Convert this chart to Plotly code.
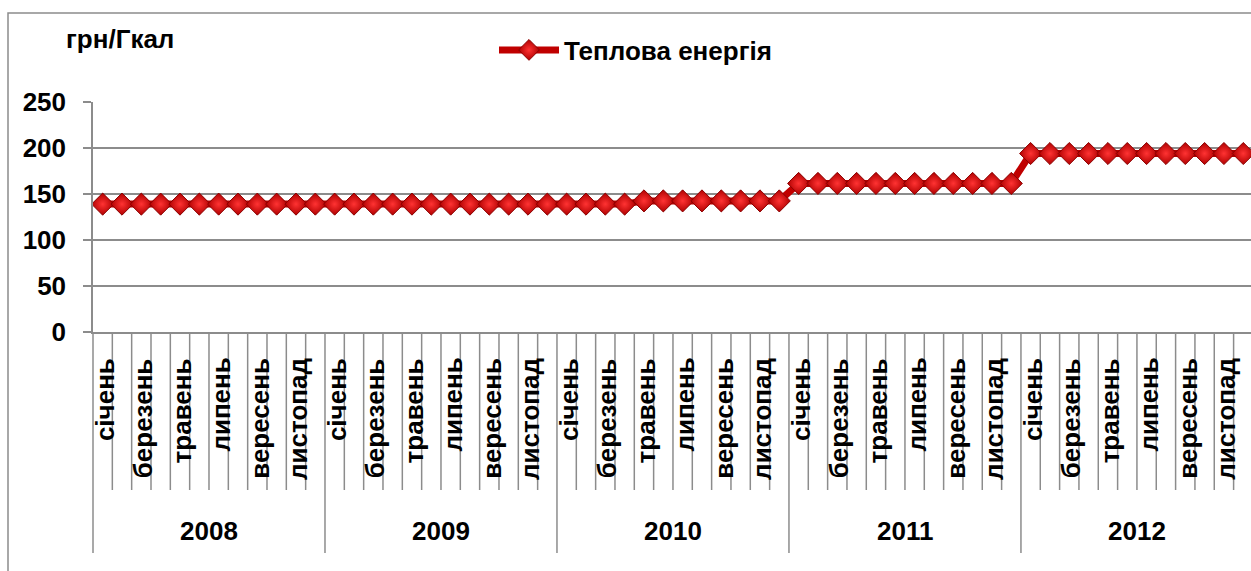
import plotly.graph_objects as go

# ---- data ----
years = ['2008', '2009', '2010', '2011', '2012']
months = ['січень', 'лютий', 'березень', 'квітень', 'травень', 'червень',
          'липень', 'серпень', 'вересень', 'жовтень', 'листопад', 'грудень']
shown_months = ['січень', 'березень', 'травень', 'липень', 'вересень', 'листопад']

values_2008 = [139, 139, 139, 139, 139, 139, 139, 139, 139, 139, 139, 139]
values_2009 = [139, 139, 139, 139, 139, 139, 139, 139, 139, 139, 139, 139]
values_2010 = [139, 139, 139, 139, 142.5, 142.5, 142.5, 142.5, 142.5, 142.5, 142.5, 142.5]
values_2011 = [161.5, 161.5, 161.5, 161.5, 161.5, 161.5, 161.5, 161.5, 161.5, 161.5, 161.5, 161.5]
values_2012 = [194, 194, 194, 194, 194, 194, 194, 194, 194, 194, 194, 194]

series_name = 'Теплова енергія'
unit_label = 'грн/Гкал'
y_ticks = [0, 50, 100, 150, 200, 250]

# ---- derived ----
values = values_2008 + values_2009 + values_2010 + values_2011 + values_2012
x_idx = list(range(len(values)))
month_labels = [months[i % 12] for i in x_idx]

W, H = 1251, 571
L, R, T, B = 93, 0, 102, 239
plot_w = W - L - R
plot_h = H - T - B

def py(pix):
    """pixel y -> paper y"""
    return (H - B - pix) / plot_h

def px(pix):
    return (pix - L) / plot_w

GRAY = '#8c8c8c'
FONT = dict(family='Liberation Sans, Arial, sans-serif', size=26, color='black', weight='bold')

fig = go.Figure()
fig.add_trace(go.Scatter(
    x=x_idx, y=values, mode='lines+markers', name=series_name,
    line=dict(color='#C00000', width=7),
    marker=dict(symbol='diamond', size=17, color='#B00000',
                line=dict(color='#8B0000', width=1),
                gradient=dict(type='radial', color='#FF3333')),
    cliponaxis=False, hoverinfo='y'))

shapes = []
annotations = []

n = len(values)
# month boundary lines and year dividers
for i in range(n - 1):
    b = i + 0.5
    if (i + 1) % 12 == 0:
        shapes.append(dict(type='line', xref='x', yref='paper', x0=b, x1=b,
                           y0=0, y1=py(553), line=dict(color=GRAY, width=1.5)))
    else:
        shapes.append(dict(type='line', xref='x', yref='paper', x0=b, x1=b,
                           y0=0, y1=py(490), line=dict(color=GRAY, width=1.5)))
# left divider
shapes.append(dict(type='line', xref='paper', yref='paper', x0=0, x1=0,
                   y0=0, y1=py(553), line=dict(color=GRAY, width=1.5)))
# outer chart frame
shapes.append(dict(type='rect', xref='paper', yref='paper', x0=px(8), x1=px(1270),
                   y0=py(590), y1=py(13), line=dict(color=GRAY, width=1.5),
                   fillcolor='rgba(0,0,0,0)'))

for i in x_idx:
    if month_labels[i] in shown_months:
        annotations.append(dict(x=i + 0.1, xref='x', y=py(356), yref='paper',
                                text=month_labels[i], textangle=-90,
                                xanchor='center', yanchor='top', showarrow=False,
                                font=FONT))
for k, yr in enumerate(years):
    annotations.append(dict(x=12 * k + 5.5, xref='x', y=py(531), yref='paper',
                            text=yr, xanchor='center', yanchor='middle',
                            showarrow=False, font=FONT))
annotations.append(dict(x=px(64), xref='paper', y=py(39), yref='paper',
                        text=unit_label, xanchor='left', yanchor='middle',
                        showarrow=False, font=FONT))

fig.update_layout(
    width=W, height=H,
    margin=dict(l=L, r=R, t=T, b=B),
    paper_bgcolor='white', plot_bgcolor='white',
    showlegend=True,
    legend=dict(orientation='h', x=px(494), xanchor='left', y=py(50), yanchor='middle',
                font=FONT, bgcolor='rgba(0,0,0,0)', itemwidth=60),
    xaxis=dict(range=[-0.5, 59.4], showticklabels=False, showgrid=False,
               zeroline=False, showline=True, linecolor=GRAY, linewidth=1.5,
               ticks=''),
    yaxis=dict(range=[0, 250], tickvals=y_ticks, showgrid=True, gridcolor=GRAY,
               gridwidth=1.5, zeroline=False, showline=True, linecolor=GRAY,
               linewidth=1.5, ticks='outside', ticklen=8, tickcolor=GRAY,
               tickwidth=1.5, tickfont=FONT, ticklabelstandoff=12),
    shapes=shapes, annotations=annotations,
)

fig.write_html('out.html', config={'displayModeBar': False},
               post_script="document.body.style.margin='0';")
